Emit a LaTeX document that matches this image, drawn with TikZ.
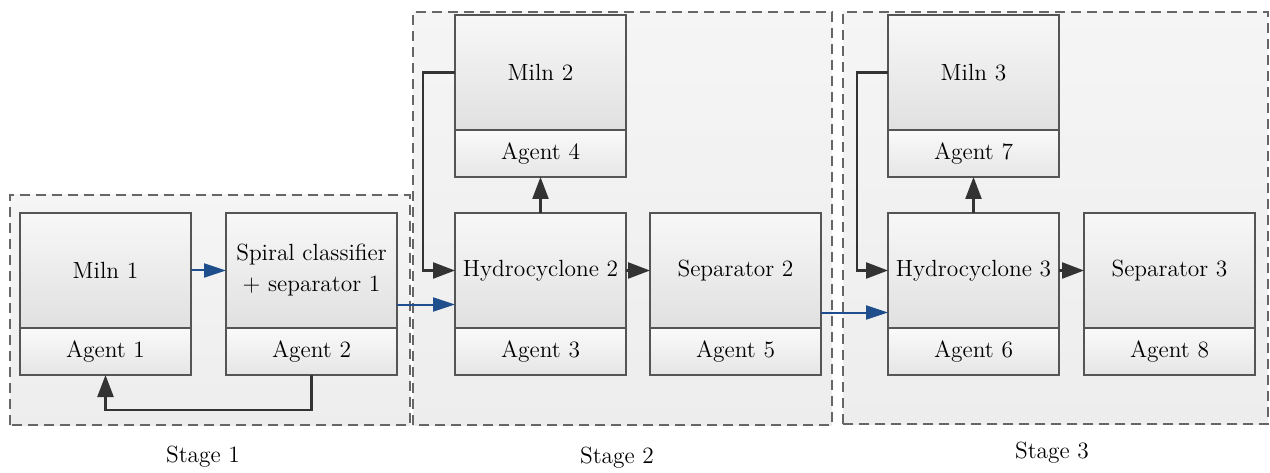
\documentclass[tikz,border=0pt]{standalone}
\usepackage{tikz}
\usetikzlibrary{arrows.meta,positioning}
\definecolor{FlowBlue}{HTML}{1F4E8C}
\definecolor{FlowDark}{HTML}{333333}
\definecolor{EdgeGrey}{HTML}{555555}

\begin{document}
\begin{tikzpicture}[x=0.5pt,y=0.5pt,
    every node/.style={font=\rmfamily\fontsize{11.7}{15.5}\selectfont},
    unit/.style={draw=EdgeGrey,line width=1pt,top color=white!97!black,bottom color=white!88!black,
       minimum width=85.5pt,minimum height=57.5pt,inner sep=1pt,outer sep=0pt,align=center},
    agentbar/.style={draw=EdgeGrey,line width=1pt,top color=white!98!black,bottom color=white!90!black,
       minimum width=85.5pt,minimum height=23.5pt,inner sep=1pt,outer sep=0pt},
    stagebox/.style={draw=black!60,line width=1pt,dash pattern=on 5pt off 3pt,
       top color=white!96!black,bottom color=white!93!black},
    flowblue/.style={FlowBlue,line width=1pt,-{Triangle[length=11pt,width=7pt]}},
    flowdark/.style={FlowDark,line width=1.2pt,-{Triangle[length=11pt,width=8pt]}}]
  \useasboundingbox (0,0) rectangle (1270,472);
  % stage frames
  \draw[stagebox] (10,47) rectangle (410,277);
  \draw[stagebox] (413,47) rectangle (832,460);
  \draw[stagebox] (843,48) rectangle (1268,460);
  % stage 1
  \node[unit] (m1) at (105.5,201.5) {Miln 1};
  \node[agentbar,below=0pt of m1] (a1) {Agent 1};
  \node[unit,right=17.5pt of m1] (s1) {Spiral classifier\\+ separator 1};
  \node[agentbar,below=0pt of s1] (a2) {Agent 2};
  % stage 2
  \node[unit,right=29pt of s1] (h2) {Hydrocyclone 2};
  \node[agentbar,below=0pt of h2] (a3) {Agent 3};
  \node[agentbar,above=18pt of h2] (a4) {Agent 4};
  \node[unit,above=0pt of a4] (m2) {Miln 2};
  \node[unit,right=12pt of h2] (p2) {Separator 2};
  \node[agentbar,below=0pt of p2] (a5) {Agent 5};
  % stage 3
  \node[unit,right=33.5pt of p2] (h3) {Hydrocyclone 3};
  \node[agentbar,below=0pt of h3] (a6) {Agent 6};
  \node[agentbar,above=18pt of h3] (a7) {Agent 7};
  \node[unit,above=0pt of a7] (m3) {Miln 3};
  \node[unit,right=12.5pt of h3] (p3) {Separator 3};
  \node[agentbar,below=0pt of p3] (a8) {Agent 8};
  % captions
  \node (st1) at (203,15) {Stage 1};
  \node (st2) at (617,14) {Stage 2};
  \node (st3) at (1052,19) {Stage 3};
  % flows
  \draw[flowblue] (m1.east) -- (s1.west);
  \draw[flowblue] ([yshift=-17pt]s1.east) -- ([yshift=-17pt]h2.west);
  \draw[flowdark] (a2.south) -- ++(0,-35) -| (a1.south);
  \draw[flowdark] (h2.north) -- (a4.south);
  \draw[flowdark] (m2.west) -- ++(-32,0) |- (h2.west);
  \draw[flowdark] (h2.east) -- (p2.west);
  \draw[flowblue] ([yshift=-21pt]p2.east) -- ([yshift=-21pt]h3.west);
  \draw[flowdark] (h3.north) -- (a7.south);
  \draw[flowdark] (m3.west) -- ++(-31,0) |- (h3.west);
  \draw[flowdark] (h3.east) -- (p3.west);
\end{tikzpicture}
\end{document}
